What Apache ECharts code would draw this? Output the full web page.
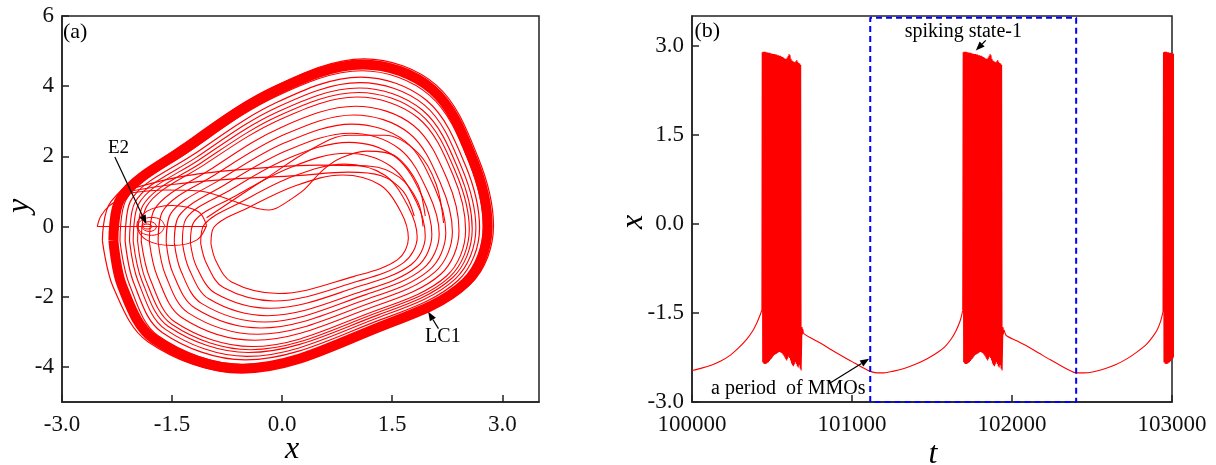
<!DOCTYPE html>
<html><head><meta charset="utf-8">
<script src="https://cdn.jsdelivr.net/npm/echarts@6/dist/echarts.min.js"></script>
<style>html,body{margin:0;padding:0;background:#fff}#c{width:1216px;height:465px}</style>
</head><body><div id="c"></div>
<script>
// ---------- tick labels ----------
const phaseXTicks = [-3.0, -1.5, 0.0, 1.5, 3.0];
const phaseYTicks = [-4, -2, 0, 2, 4, 6];
const timeTTicks = [100000, 101000, 102000, 103000];
const timeXTicks = [-3.0, -1.5, 0.0, 1.5, 3.0];

// ---------- panel (a): phase portrait (x, y) ----------
const lc1Band = [[-2.3,-0.4],[-2.2,0.8],[-1.3,2.25],[-0.1,3.85],[1.1,4.62],[2.05,3.9],[2.6,1.9],[2.8,0.0],[2.5,-1.6],[1.4,-2.8],[-0.55,-4.05],[-1.75,-3.2],[-2.18,-1.7],[-2.3,-0.4]];
const lc1Outer = [[-2.45,-0.4],[-2.33,0.72],[-1.36,2.33],[-0.12,3.98],[1.12,4.78],[2.10,4.03],[2.67,1.97],[2.88,0.02],[2.57,-1.63],[1.43,-2.87],[-0.59,-4.16],[-1.83,-3.28],[-2.3,-1.74],[-2.45,-0.4]];
const loop14 = [[-2.21,-0.41],[-2.13,0.75],[-1.26,2.15],[-0.09,3.70],[1.09,4.44],[2.01,3.74],[2.55,1.81],[2.74,-0.02],[2.45,-1.56],[1.38,-2.72],[-0.52,-3.93],[-1.69,-3.11],[-2.08,-1.66],[-2.21,-0.41]];
const loop13 = [[-2.14,-0.41],[-2.07,0.71],[-1.21,2.05],[-0.07,3.54],[1.07,4.26],[1.97,3.59],[2.50,1.73],[2.69,-0.04],[2.40,-1.53],[1.36,-2.64],[-0.50,-3.80],[-1.64,-3.01],[-2.02,-1.62],[-2.14,-0.41]];
const loop12 = [[-2.08,-0.41],[-2.01,0.67],[-1.17,1.97],[-0.06,3.41],[1.06,4.10],[1.94,3.46],[2.45,1.66],[2.64,-0.05],[2.36,-1.49],[1.34,-2.57],[-0.48,-3.70],[-1.59,-2.93],[-1.96,-1.58],[-2.08,-0.41]];
const loop11 = [[-2.03,-0.42],[-1.96,0.63],[-1.14,1.89],[-0.05,3.28],[1.05,3.95],[1.91,3.32],[2.41,1.58],[2.59,-0.07],[2.32,-1.46],[1.32,-2.51],[-0.46,-3.59],[-1.55,-2.85],[-1.91,-1.55],[-2.03,-0.42]];
const loop10 = [[-1.97,-0.42],[-1.90,0.59],[-1.10,1.82],[-0.03,3.17],[1.04,3.82],[1.88,3.21],[2.37,1.52],[2.55,-0.08],[2.28,-1.44],[1.30,-2.45],[-0.43,-3.51],[-1.50,-2.79],[-1.86,-1.52],[-1.97,-0.42]];
const loop9 = [[-1.92,-0.43],[-1.85,0.56],[-1.07,1.75],[-0.02,3.06],[1.02,3.69],[1.85,3.10],[2.33,1.46],[2.50,-0.10],[2.24,-1.41],[1.28,-2.39],[-0.41,-3.42],[-1.46,-2.72],[-1.80,-1.49],[-1.92,-0.43]];
const loop8 = [[-1.81,-0.43],[-1.74,0.49],[-0.99,1.61],[0.00,2.84],[1.00,3.43],[1.79,2.88],[2.25,1.34],[2.41,-0.12],[2.16,-1.36],[1.25,-2.28],[-0.37,-3.24],[-1.37,-2.59],[-1.70,-1.43],[-1.81,-0.43]];
const loop7 = [[-1.69,-0.44],[-1.63,0.43],[-0.92,1.47],[0.03,2.62],[0.98,3.18],[1.73,2.66],[2.16,1.22],[2.32,-0.15],[2.08,-1.30],[1.21,-2.17],[-0.33,-3.07],[-1.28,-2.46],[-1.59,-1.38],[-1.69,-0.44]];
const loop6 = [[-1.58,-0.45],[-1.52,0.36],[-0.85,1.33],[0.05,2.40],[0.95,2.92],[1.67,2.44],[2.08,1.10],[2.23,-0.18],[2.00,-1.25],[1.18,-2.05],[-0.29,-2.89],[-1.19,-2.32],[-1.49,-1.32],[-1.58,-0.45]];
const loop5 = [[-1.47,-0.45],[-1.41,0.29],[-0.78,1.19],[0.08,2.18],[0.93,2.66],[1.60,2.21],[1.99,0.97],[2.14,-0.21],[1.92,-1.20],[1.14,-1.94],[-0.24,-2.72],[-1.10,-2.19],[-1.38,-1.26],[-1.47,-0.45]];
const loop4 = [[-1.36,-0.46],[-1.31,0.22],[-0.70,1.05],[0.10,1.96],[0.91,2.40],[1.54,1.99],[1.91,0.85],[2.04,-0.23],[1.84,-1.14],[1.11,-1.83],[-0.20,-2.54],[-1.00,-2.06],[-1.27,-1.20],[-1.36,-0.46]];
const loop3 = [[-1.25,-0.47],[-1.20,0.14],[-0.63,0.88],[0.13,1.70],[0.88,2.09],[1.48,1.72],[1.83,0.70],[1.95,-0.27],[1.76,-1.08],[1.07,-1.69],[-0.16,-2.33],[-0.91,-1.90],[-1.17,-1.13],[-1.25,-0.47]];
const loop2 = [[-1.11,-0.48],[-1.06,0.06],[-0.54,0.72],[0.16,1.44],[0.85,1.78],[1.40,1.46],[1.72,0.56],[1.84,-0.30],[1.66,-1.02],[1.03,-1.56],[-0.11,-2.12],[-0.80,-1.74],[-1.03,-1.06],[-1.11,-0.48]];
const loop1 = [[-0.97,-0.49],[-0.93,-0.02],[-0.45,0.55],[0.19,1.17],[0.82,1.47],[1.33,1.19],[1.62,0.41],[1.72,-0.33],[1.57,-0.95],[0.98,-1.42],[-0.05,-1.91],[-0.69,-1.58],[-0.90,-0.99],[-0.97,-0.49]];
const slowBranch = [[-2.52,0.0],[-1.03,0.0]];
const exitCurve = [[-2.52,0.0],[-2.47,0.3],[-2.36,0.58],[-2.2,0.8]];
const spiralE2a = [[-1.77,0],[-1.79,0.05],[-1.84,0.07],[-1.89,0.05],[-1.9,0],[-1.88,-0.05],[-1.84,-0.07],[-1.79,-0.05],[-1.77,0]];
const spiralE2b = [[-1.71,0],[-1.74,0.1],[-1.81,0.14],[-1.88,0.1],[-1.91,0],[-1.88,-0.1],[-1.81,-0.14],[-1.74,-0.1],[-1.71,0]];
const spiralE2c = [[-1.6,0.02],[-1.65,0.19],[-1.78,0.26],[-1.91,0.19],[-1.97,0.02],[-1.92,-0.17],[-1.78,-0.25],[-1.65,-0.17],[-1.6,0.02]];
const spiralWide = [[-1.03,0.03],[-1.14,0.42],[-1.5,0.6],[-1.84,0.44],[-1.98,0.03],[-1.85,-0.38],[-1.5,-0.54],[-1.16,-0.38],[-1.03,0.03]];
const dipCurve = [[-2.1,0.95],[-1.6,1.04],[-1.08,1.0],[-0.6,0.68],[-0.3,0.5],[-0.18,0.47],[-0.08,0.52],[0.1,0.75],[0.3,1.05],[0.55,1.6],[0.8,1.95],[1.15,2.15],[1.55,2.0],[1.85,1.2],[1.95,0.3]];
const riseCurve = [[-1.03,0.25],[-0.6,0.85],[-0.2,1.4],[0.37,2.17],[0.9,2.6],[1.4,2.6],[1.85,2.1],[2.1,1.2],[2.2,0.1]];
const flatCurve1 = [[-2.1,1.0],[-1.5,1.2],[-0.7,1.35],[0.2,1.45],[0.9,1.55],[1.35,1.45],[1.65,1.0],[1.8,0.3]];
const flatCurve2 = [[-2.05,1.08],[-1.3,1.45],[-0.4,1.65],[0.5,1.75],[1.2,1.72],[1.6,1.4],[1.85,0.7],[1.92,0.0]];

// ---------- panel (b): time series x(t) ----------
const quiet0T = [100000, 100060, 100120, 100180, 100240, 100291, 100340, 100378, 100405, 100425, 100437];
const quiet0X = [-2.47, -2.43, -2.38, -2.31, -2.21, -2.09, -1.95, -1.81, -1.67, -1.54, -1.45];
const quiet1T = [100687, 100690, 100693, 100699, 100750, 100810, 100870, 100940, 101000, 101060, 101110, 101155, 101200, 101260, 101330, 101400, 101470, 101527, 101580, 101620, 101650, 101675, 101692];
const quiet1X = [-1.74, -1.86, -1.78, -1.85, -1.93, -2.02, -2.12, -2.23, -2.32, -2.41, -2.48, -2.51, -2.51, -2.48, -2.43, -2.36, -2.27, -2.18, -2.07, -1.94, -1.80, -1.64, -1.46];
const quiet2T = [101943, 101946, 101950, 101964, 102030, 102100, 102170, 102240, 102300, 102355, 102401, 102450, 102510, 102580, 102650, 102720, 102780, 102840, 102880, 102910, 102930, 102944];
const quiet2X = [-1.74, -1.86, -1.79, -1.88, -1.97, -2.07, -2.18, -2.29, -2.38, -2.46, -2.51, -2.51, -2.49, -2.44, -2.37, -2.27, -2.16, -2.03, -1.90, -1.77, -1.63, -1.48];
const burstOnsets = [100439, 101695, 102947];
const spikeOffsets = [0,6,12,18,24,30,36,42,48,54,60,66,72,78,84,90,96,102,108,114,120,126,132,138,144,150,156,162,168,174,180,186,192,198,204,210,216,222,228,234,240];
const troughOffsets = [3,9,15,21,27,33,39,45,51,57,63,69,75,81,87,93,99,105,111,117,123,129,135,141,147,153,159,165,171,177,183,189,195,201,207,213,219,225,231,237,243];
const spikePeaks = [2.89,2.90,2.90,2.90,2.89,2.89,2.88,2.88,2.88,2.87,2.87,2.86,2.86,2.86,2.85,2.85,2.84,2.84,2.83,2.83,2.82,2.81,2.80,2.79,2.78,2.78,2.80,2.83,2.86,2.84,2.78,2.75,2.74,2.73,2.72,2.74,2.76,2.73,2.71,2.70,2.68];
const spikeTroughs = [-2.33,-2.35,-2.36,-2.36,-2.35,-2.34,-2.33,-2.31,-2.29,-2.27,-2.25,-2.23,-2.21,-2.20,-2.19,-2.18,-2.17,-2.16,-2.16,-2.17,-2.18,-2.20,-2.22,-2.25,-2.28,-2.30,-2.27,-2.24,-2.26,-2.30,-2.35,-2.38,-2.40,-2.37,-2.33,-2.36,-2.40,-2.42,-2.38,-2.44,-2.47];
const mmoWindowT = [101114, 101114, 102401, 102401, 101114];
const mmoWindowX = [-3.0, 3.47, 3.47, -3.0, -3.0];

// ---------- build ----------
const RED = '#ff0000';
const zip = (a, b) => a.map((v, i) => [v, b[i]]);
function burst(onset) {
  const pts = [];
  spikeOffsets.forEach((o, i) => {
    pts.push([onset + o, spikePeaks[i]]);
    pts.push([onset + troughOffsets[i], spikeTroughs[i]]);
  });
  return pts;
}
const quietSegs = [zip(quiet0T, quiet0X), zip(quiet1T, quiet1X), zip(quiet2T, quiet2X)];
const burstSegs = burstOnsets.map((on, k) => {
  const prev = quietSegs[k][quietSegs[k].length - 1];
  const next = quietSegs[k + 1] ? [quietSegs[k + 1][0]] : [];
  return [prev].concat(burst(on), next);
});

function phaseLine(data, width, smooth) {
  return { type: 'line', xAxisIndex: 0, yAxisIndex: 0, data, symbol: 'none', showSymbol: false,
    smooth: smooth === undefined ? 0.35 : smooth, lineStyle: { color: RED, width }, silent: true, animation: false };
}
function timeLine(data, smooth) {
  return { type: 'line', xAxisIndex: 1, yAxisIndex: 1, data, symbol: 'none', showSymbol: false,
    smooth: smooth, lineStyle: { color: RED, width: 1.1 }, silent: true, animation: false };
}
const phaseSeries = [
  phaseLine(lc1Band, 10), phaseLine(lc1Outer, 1.2), phaseLine(loop14, 1.1), phaseLine(loop13, 1.2),
  phaseLine(loop12, 1.1), phaseLine(loop11, 1.1), phaseLine(loop10, 1.1),
  phaseLine(loop9, 1.1), phaseLine(loop8, 1.1), phaseLine(loop7, 1.1),
  phaseLine(loop6, 1.1), phaseLine(loop5, 1.1), phaseLine(loop4, 1.1), phaseLine(loop3, 1.1),
  phaseLine(loop2, 1.1), phaseLine(loop1, 1.1),
  phaseLine(slowBranch, 1.1, false), phaseLine(exitCurve, 1.1), phaseLine(spiralE2a, 1), phaseLine(spiralE2b, 1),
  phaseLine(spiralE2c, 1), phaseLine(spiralWide, 1.1), phaseLine(dipCurve, 1.1, 0.3), phaseLine(riseCurve, 1.1),
  phaseLine(flatCurve1, 1.1), phaseLine(flatCurve2, 1.1)
];
const timeSeriesList = quietSegs.map(s => timeLine(s, 0.3)).concat(burstSegs.map(s => timeLine(s, false)));

const FONT = 'Liberation Serif';
const axisCommon = {
  type: 'value',
  axisLine: { show: true, onZero: false, lineStyle: { color: '#222', width: 1.5 } },
  splitLine: { show: false }
};
const tick = vals => ({ show: true, inside: true, length: 7, customValues: vals, lineStyle: { color: '#222', width: 1.5 } });
const lbl = (margin, vals, fmt) => ({ margin, fontSize: 23, fontFamily: FONT, color: '#111', customValues: vals, formatter: fmt });

const option = {
  animation: false,
  grid: [
    { left: 62, top: 16, width: 477, height: 386, show: true, borderColor: '#222', borderWidth: 1.5, backgroundColor: 'transparent' },
    { left: 692, top: 16, width: 480, height: 386, show: true, borderColor: '#222', borderWidth: 1.5, backgroundColor: 'transparent' }
  ],
  xAxis: [
    Object.assign({}, axisCommon, { gridIndex: 0, min: -3, max: 3.5,
      axisTick: tick(phaseXTicks), axisLabel: lbl(11, phaseXTicks, v => Number(v).toFixed(1)) }),
    Object.assign({}, axisCommon, { gridIndex: 1, min: 100000, max: 103000,
      axisTick: tick(timeTTicks), axisLabel: lbl(11, timeTTicks, v => String(v)) })
  ],
  yAxis: [
    Object.assign({}, axisCommon, { gridIndex: 0, min: -5, max: 6,
      axisTick: tick(phaseYTicks), axisLabel: lbl(8, phaseYTicks, v => String(v)) }),
    Object.assign({}, axisCommon, { gridIndex: 1, min: -3, max: 3.5,
      axisTick: tick(timeXTicks), axisLabel: lbl(8, timeXTicks, v => Number(v).toFixed(1)) })
  ],
  series: phaseSeries.concat(timeSeriesList, [
    { type: 'line', xAxisIndex: 1, yAxisIndex: 1, data: zip(mmoWindowT, mmoWindowX), symbol: 'none', showSymbol: false,
      clip: false, z: 5, lineStyle: { color: '#0000ff', width: 2, type: [6, 4] }, silent: true, animation: false }
  ])
};

const chart = echarts.init(document.getElementById('c'));
chart.setOption(option);

// ---------- annotations (positioned in data coordinates) ----------
const textsA = [
  { text: '(a)', at: [-2.82, 5.53], size: 22 },
  { text: 'E2', at: [-2.23, 2.23], size: 19 },
  { text: 'LC1', at: [2.19, -3.15], size: 20 }
];
const arrowsA = [ { from: [-2.28, 1.98], to: [-1.85, 0.07] }, { from: [2.13, -2.91], to: [1.99, -2.43] } ];
const textsB = [
  { text: '(b)', at: [100096, 3.24], size: 22 },
  { text: 'spiking state-1', at: [101696, 3.24], size: 20 },
  { text: 'a period  of MMOs', at: [100602, -2.77], size: 20 }
];
const arrowsB = [ { from: [101836, 3.09], to: [101774, 2.92] }, { from: [100858, -2.69], to: [101107, -2.27] } ];

const g = [];
function addText(p, text, size, italic, rot) {
  g.push({ type: 'text', x: p[0], y: p[1], rotation: rot || 0, z: 100,
    style: { text, fontSize: size, fontFamily: FONT, fontStyle: italic ? 'italic' : 'normal', fill: '#000', align: 'center', verticalAlign: 'middle' } });
}
function addArrow(p0, p1) {
  const dx = p1[0] - p0[0], dy = p1[1] - p0[1], L = Math.hypot(dx, dy), ux = dx / L, uy = dy / L;
  const hl = 9, hw = 3.5, bx = p1[0] - ux * hl, by = p1[1] - uy * hl;
  g.push({ type: 'line', z: 100, shape: { x1: p0[0], y1: p0[1], x2: bx, y2: by }, style: { stroke: '#000', lineWidth: 1.2 } });
  g.push({ type: 'polygon', z: 100, shape: { points: [[p1[0], p1[1]], [bx - uy * hw, by + ux * hw], [bx + uy * hw, by - ux * hw]] }, style: { fill: '#000' } });
}
const px = (gi, v) => chart.convertToPixel({ gridIndex: gi }, v);
textsA.forEach(t => addText(px(0, t.at), t.text, t.size));
arrowsA.forEach(a => addArrow(px(0, a.from), px(0, a.to)));
textsB.forEach(t => addText(px(1, t.at), t.text, t.size));
arrowsB.forEach(a => addArrow(px(1, a.from), px(1, a.to)));
// axis titles
addText([292, 450], 'x', 32, true);
addText([20, 206], 'y', 32, true, Math.PI / 2);
addText([933, 455], 't', 32, true);
addText([634, 222], 'x', 32, true, Math.PI / 2);
chart.setOption({ graphic: g });
</script></body></html>
